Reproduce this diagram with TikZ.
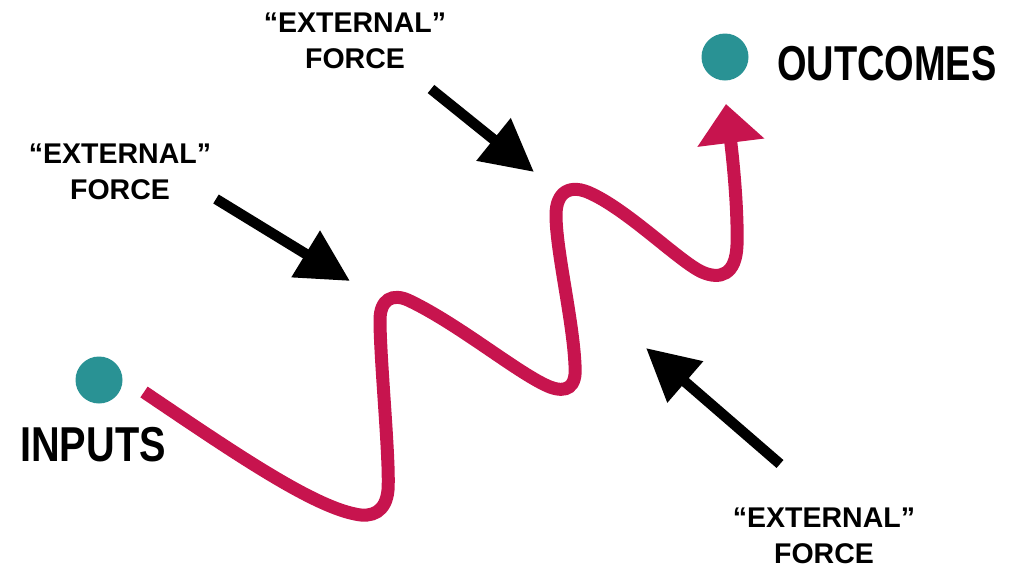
\documentclass[tikz,border=0pt]{standalone}
\usepackage{fontspec}
\usetikzlibrary{arrows.meta}
\newfontfamily\labelfont{Liberation Sans}
\definecolor{dotteal}{RGB}{41,146,148}
\definecolor{pathred}{RGB}{199,20,78}
\tikzset{
  dot/.style={circle, fill=dotteal, minimum size=47pt, inner sep=0pt},
  headword/.style={inner sep=0pt, font=\labelfont\bfseries\fontsize{49}{49}\selectfont},
  forcelabel/.style={inner sep=0pt, align=center, font=\labelfont\bfseries\fontsize{28.5}{36}\selectfont},
  forcearrow/.style={line width=10.5pt, -{Triangle[length=52pt,width=52pt]}},
  journey/.style={draw=pathred, line width=13pt, -{Triangle[length=39pt,width=65pt]}}
}
\begin{document}
\begin{tikzpicture}[x=1pt, y=-1pt]
  \useasboundingbox (0,0) rectangle (1025,568);

  % start and end points
  \node[dot] (indot) at (99,380) {};
  \node[dot] (outdot) at (725,57) {};
  \node[headword, anchor=base west] (inputs) at (20,461) {\scalebox{0.81}[1]{INPUTS}};
  \node[headword, anchor=base west] (outcomes) at (777,80) {\scalebox{0.775}[1]{OUTCOMES}};

  % the winding route from inputs to outcomes
  \coordinate (routestart) at (144,392);
  \coordinate (routeend) at (726,104);
  \draw[journey] (routestart)
    .. controls (230,450) and (310,505) .. (355,514)
    .. controls (372,518) and (386,512) .. (388,490)
    .. controls (390,460) and (380,360) .. (380,320)
    .. controls (380,300) and (392,292) .. (410,301)
    .. controls (460,325) and (520,375) .. (550,387)
    .. controls (566,393) and (577,388) .. (575,365)
    .. controls (573,320) and (556,250) .. (556,215)
    .. controls (556,192) and (570,183) .. (592,194)
    .. controls (630,212) and (680,262) .. (702,272)
    .. controls (720,280) and (736,275) .. (737,245)
    .. controls (738,210) and (733,160) .. (routeend);

  % external forces (anchored on the baseline of the lower line)
  \node[forcelabel, anchor=base] (forceA) at (120,199) {“EXTERNAL”\\FORCE};
  \node[forcelabel, anchor=base] (forceB) at (355,68) {“EXTERNAL”\\FORCE};
  \node[forcelabel, anchor=base] (forceC) at (824,563) {“EXTERNAL”\\FORCE};

  \coordinate (fAs) at (216,199);
  \coordinate (fAt) at (350,281);
  \coordinate (fBs) at (431,89);
  \coordinate (fBt) at (534,172);
  \coordinate (fCs) at (780,464);
  \coordinate (fCt) at (646,348);
  \draw[forcearrow] (fAs) -- (fAt);
  \draw[forcearrow] (fBs) -- (fBt);
  \draw[forcearrow] (fCs) -- (fCt);
\end{tikzpicture}
\end{document}
